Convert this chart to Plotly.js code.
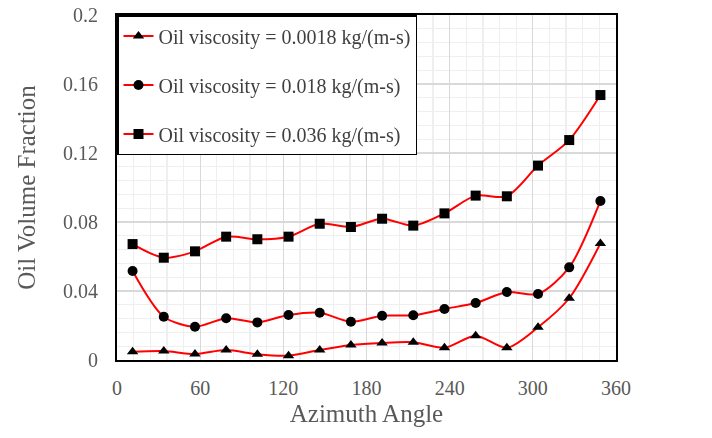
<!DOCTYPE html>
<html>
<head>
<meta charset="utf-8">
<script src="https://cdn.plot.ly/plotly-3.0.1.min.js"></script>
<style>
  body { margin: 0; background: #fff; }
  #chart { width: 712px; height: 438px; }
</style>
</head>
<body>
<div id="chart"></div>
<script>
// azimuth positions of the sampled points
const angle = [11.25, 33.75, 56.25, 78.75, 101.25, 123.75, 146.25, 168.75,
               191.25, 213.75, 236.25, 258.75, 281.25, 303.75, 326.25, 348.75];

const visc0018 = [0.0048, 0.0052, 0.0035, 0.0058, 0.0033, 0.0025, 0.0058, 0.0087,
                  0.0099, 0.0103, 0.0071, 0.0141, 0.0071, 0.0190, 0.0358, 0.0676];
const visc018 = [0.0516, 0.0251, 0.0193, 0.0242, 0.0218, 0.0261, 0.0274, 0.0222,
                 0.0257, 0.0259, 0.0296, 0.0330, 0.0394, 0.0383, 0.0537, 0.0922];
const visc036 = [0.0672, 0.0593, 0.0630, 0.0715, 0.0700, 0.0715, 0.0790, 0.0771,
                 0.0819, 0.0779, 0.0850, 0.0953, 0.0949, 0.1127, 0.1275, 0.1536];

const names = ['Oil viscosity = 0.0018 kg/(m-s)',
               'Oil viscosity = 0.018 kg/(m-s)',
               'Oil viscosity = 0.036 kg/(m-s)'];
const symbols = ['triangle-up', 'circle', 'square'];
const series = [visc0018, visc018, visc036];

// base axes x/y: fine grid + black frame (need a trace so plotly draws them)
// overlay axes x2/y2: major grid, tick labels, titles and the visible data
// (axis.minor is avoided because it switches tick labels to the default font)
let traces = [{
    x: angle,
    y: visc036,
    mode: 'markers',
    type: 'scatter',
    opacity: 0,
    showlegend: false,
    hoverinfo: 'skip'
}];

series.forEach(function (ys, i) {
    traces.push({
        x: angle,
        y: ys,
        xaxis: 'x2',
        yaxis: 'y2',
        name: names[i],
        legendgroup: 'g' + i,
        mode: 'lines+markers',
        type: 'scatter',
        line: {color: '#ff0000', width: 2, shape: 'spline', smoothing: 0.8},
        marker: {symbol: symbols[i], color: '#000000', size: 10}
    });
});

const serif = 'Liberation Serif';
const tickFont = {family: serif, color: '#595959', size: 20};
const titleFont = {family: serif, color: '#595959', size: 25};

let layout = {
    width: 712,
    height: 438,
    margin: {l: 117, r: 96, t: 15, b: 78},
    paper_bgcolor: '#ffffff',
    plot_bgcolor: '#ffffff',
    font: {family: serif, color: '#595959', size: 20},
    showlegend: true,
    legend: {
        x: 0, y: 1, xanchor: 'left', yanchor: 'top',
        bgcolor: '#ffffff',
        bordercolor: '#000000',
        borderwidth: 1.5,
        tracegroupgap: 20,
        font: {family: serif, color: '#404040', size: 20}
    },
    xaxis: {
        range: [0, 360],
        tick0: 0, dtick: 12,
        showticklabels: false, ticks: '',
        showline: true, mirror: true, linecolor: '#000000', linewidth: 2,
        showgrid: true, gridcolor: '#efefef', gridwidth: 1.3,
        zeroline: false
    },
    yaxis: {
        range: [0, 0.2],
        tick0: 0, dtick: 0.008,
        showticklabels: false, ticks: '',
        showline: true, mirror: true, linecolor: '#000000', linewidth: 2,
        showgrid: true, gridcolor: '#efefef', gridwidth: 1.3,
        zeroline: false
    },
    xaxis2: {
        overlaying: 'x', anchor: 'y2', side: 'bottom',
        range: [0, 360],
        tick0: 0, dtick: 60,
        ticks: 'outside', ticklen: 10, tickcolor: 'rgba(0,0,0,0)',
        showline: false,
        showgrid: true, gridcolor: '#d9d9d9', gridwidth: 1.3,
        zeroline: false,
        tickfont: tickFont,
        title: {text: 'Azimuth Angle', font: titleFont, standoff: 6}
    },
    yaxis2: {
        overlaying: 'y', anchor: 'x2', side: 'left',
        range: [0, 0.2],
        tick0: 0, dtick: 0.04,
        ticks: 'outside', ticklen: 14, tickcolor: 'rgba(0,0,0,0)',
        showline: false,
        showgrid: true, gridcolor: '#d9d9d9', gridwidth: 1.3,
        zeroline: false,
        tickfont: tickFont,
        title: {text: 'Oil Volume Fraction', font: titleFont, standoff: 20}
    }
};

Plotly.newPlot('chart', traces, layout, {displayModeBar: false, staticPlot: true});
</script>
</body>
</html>
